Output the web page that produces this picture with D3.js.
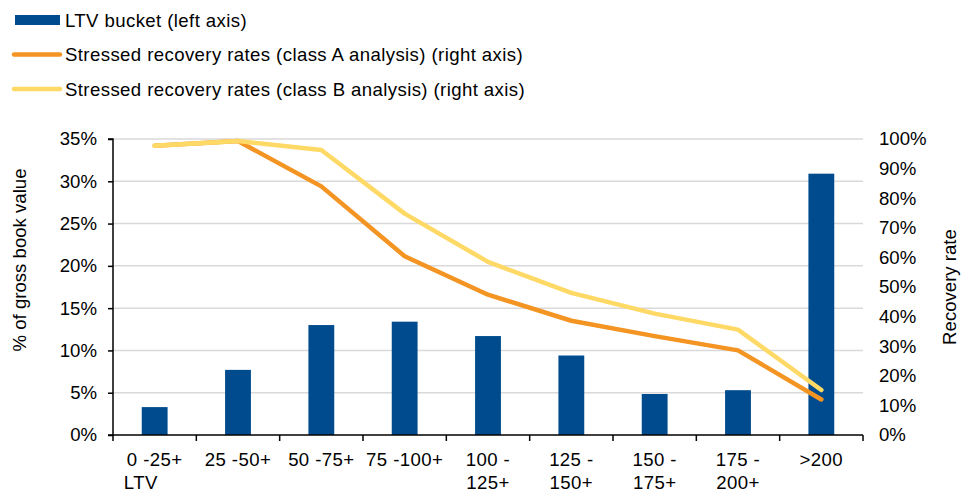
<!DOCTYPE html>
<html>
<head>
<meta charset="utf-8">
<script src="https://cdn.jsdelivr.net/npm/d3@7"></script>
<style>
  body { margin: 0; background: #fff; }
  text { font-family: "Liberation Sans", Arial, sans-serif; fill: #000; }
</style>
</head>
<body>
<svg id="chart" width="971" height="490"></svg>
<script>
// LTV buckets (x axis), one entry per line of label
const categories = [
    ['0 -25+', 'LTV'], ['25 -50+'], ['50 -75+'], ['75 -100+'],
    ['100 -', '125+'], ['125 -', '150+'], ['150 -', '175+'], ['175 -', '200+'], ['>200']
];

// % of gross book value (left axis)
const ltvShare = [3.3, 7.7, 13.0, 13.4, 11.7, 9.4, 4.85, 5.3, 30.9];

// Stressed recovery rates (right axis), %
const classA = [97.7, 99.3, 84.0, 60.4, 47.4, 38.6, 33.4, 28.6, 12.0];
const classB = [97.7, 99.3, 96.3, 74.8, 58.5, 48.0, 41.0, 35.6, 15.2];

const leftTicks = [0, 5, 10, 15, 20, 25, 30, 35];
const rightTicks = [0, 10, 20, 30, 40, 50, 60, 70, 80, 90, 100];

const colors = { bar: '#004b8d', a: '#f39423', b: '#ffd966', grid: '#d9d9d9' };
const fontSize = '18.6px';

const svg = d3.select('#chart');
const margin = { left: 113, right: 108, top: 139, bottom: 55 };
const width = 971 - margin.left - margin.right;
const height = 490 - margin.top - margin.bottom;
const g = svg.append('g').attr('transform', `translate(${margin.left},${margin.top})`);

const x = d3.scaleBand().domain(d3.range(categories.length)).range([0, width]).paddingInner(0.69).paddingOuter(0.345);
const xc = i => x(i) + x.bandwidth() / 2;
const yL = d3.scaleLinear().domain([0, 35]).range([height, 0]);
const yR = d3.scaleLinear().domain([0, 100]).range([height, 0]);
const step = width / categories.length;

// Gridlines
g.selectAll('.grid').data(leftTicks.slice(1)).join('line')
    .attr('x1', 0).attr('x2', width)
    .attr('y1', d => yL(d)).attr('y2', d => yL(d))
    .attr('stroke', colors.grid).attr('stroke-width', 1.5);

// Bars
g.selectAll('.bar').data(ltvShare).join('rect')
    .attr('x', (d, i) => x(i)).attr('width', x.bandwidth())
    .attr('y', d => yL(d)).attr('height', d => height - yL(d))
    .attr('fill', colors.bar);

// Lines
const line = scale => d3.line().x((d, i) => xc(i)).y(d => scale(d));
[[classA, colors.a], [classB, colors.b]].forEach(([data, c]) => {
    g.append('path').datum(data)
        .attr('d', line(yR))
        .attr('fill', 'none').attr('stroke', c).attr('stroke-width', 4.5)
        .attr('stroke-linecap', 'round').attr('stroke-linejoin', 'round');
});

// Left axis
const leftAxis = g.append('g').call(d3.axisLeft(yL).tickValues(leftTicks).tickFormat(d => d + '%').tickSize(5).tickPadding(11));
leftAxis.select('.domain').attr('stroke', '#000').attr('stroke-width', 1.5).attr('d', `M-5,0H0V${height}H-5`);
leftAxis.selectAll('.tick line').attr('stroke', '#000').attr('stroke-width', 1.5);
leftAxis.selectAll('.tick text').style('font-size', fontSize).attr('fill', '#000');

// Right axis (labels only)
const rightAxis = g.append('g').attr('transform', `translate(${width},0)`)
    .call(d3.axisRight(yR).tickValues(rightTicks).tickFormat(d => d + '%').tickSize(0).tickPadding(16));
rightAxis.select('.domain').remove();
rightAxis.selectAll('.tick text').style('font-size', fontSize).attr('fill', '#000');

// Bottom axis
g.append('line').attr('x1', 0).attr('x2', width).attr('y1', height).attr('y2', height)
    .attr('stroke', '#000').attr('stroke-width', 1.5);
g.selectAll('.xtick').data(d3.range(categories.length + 1)).join('line')
    .attr('x1', d => d * step).attr('x2', d => d * step)
    .attr('y1', height).attr('y2', height + 6)
    .attr('stroke', '#000').attr('stroke-width', 1.5);

categories.forEach((lines, i) => {
    const t = g.append('text').attr('x', xc(i)).attr('y', height + 31)
        .attr('text-anchor', 'middle').style('font-size', fontSize)
        .style('letter-spacing', '0.4px').text(lines[0]);
    if (lines.length > 1) {
        if (i === 0) {
            // first label keeps its second line at the left edge
            const w = t.node().getComputedTextLength();
            g.append('text').attr('x', xc(i) - w / 2 - 3).attr('y', height + 54)
                .style('font-size', fontSize).style('letter-spacing', '0.4px').text(lines[1]);
        } else {
            g.append('text').attr('x', xc(i)).attr('y', height + 54)
                .attr('text-anchor', 'middle').style('font-size', fontSize)
                .style('letter-spacing', '0.4px').text(lines[1]);
        }
    }
});

// Axis titles
svg.append('text').attr('transform', 'translate(26,260) rotate(-90)')
    .attr('text-anchor', 'middle').style('font-size', fontSize).text('% of gross book value');
svg.append('text').attr('transform', 'translate(956,287) rotate(-90)')
    .attr('text-anchor', 'middle').style('font-size', fontSize).text('Recovery rate');

// Legend
const legend = [
    { label: 'LTV bucket (left axis)', type: 'bar', color: colors.bar },
    { label: 'Stressed recovery rates (class A analysis) (right axis)', type: 'line', color: colors.a },
    { label: 'Stressed recovery rates (class B analysis) (right axis)', type: 'line', color: colors.b }
];
const lg = svg.append('g');
legend.forEach((d, i) => {
    const cy = 20 + i * 34.5;
    if (d.type === 'bar') {
        lg.append('rect').attr('x', 15).attr('y', cy - 5).attr('width', 45).attr('height', 10).attr('fill', d.color);
    } else {
        lg.append('line').attr('x1', 14).attr('x2', 60).attr('y1', cy).attr('y2', cy)
            .attr('stroke', d.color).attr('stroke-width', 4.5).attr('stroke-linecap', 'round');
    }
    lg.append('text').attr('x', 65).attr('y', cy + 6.5).style('font-size', fontSize)
        .style('letter-spacing', '0.4px').text(d.label);
});
</script>
</body>
</html>
